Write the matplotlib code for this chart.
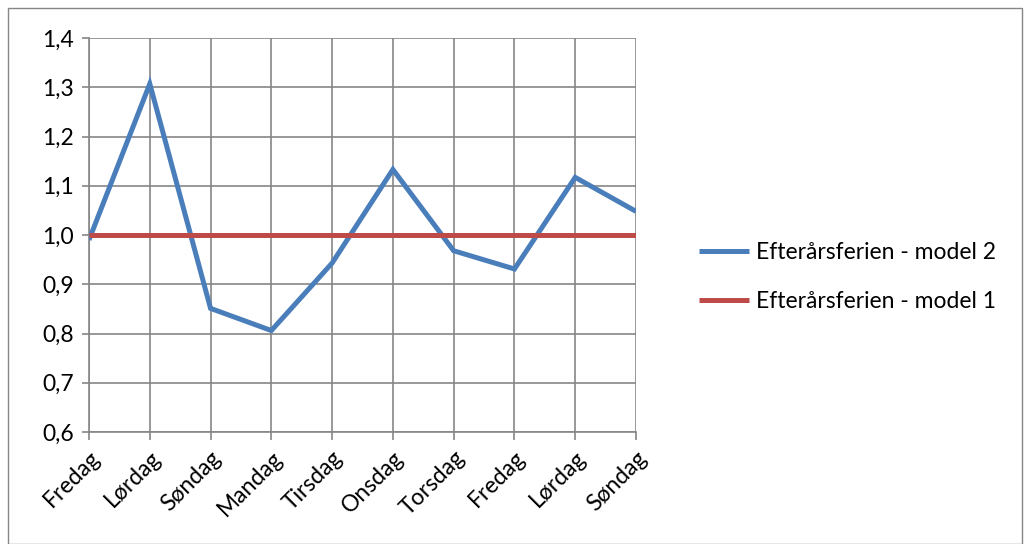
import matplotlib
matplotlib.use("Agg")
import matplotlib.pyplot as plt
from matplotlib.patches import Rectangle
from matplotlib.ticker import FuncFormatter

categories = ["Fredag", "Lørdag", "Søndag", "Mandag", "Tirsdag", "Onsdag",
              "Torsdag", "Fredag", "Lørdag", "Søndag"]
model2 = [0.99, 1.307, 0.851, 0.806, 0.943, 1.133, 0.968, 0.931, 1.117, 1.048]
model1 = [1.0] * 10
series_names = ["Efterårsferien - model 2", "Efterårsferien - model 1"]
yticks = [0.6, 0.7, 0.8, 0.9, 1.0, 1.1, 1.2, 1.3, 1.4]

plt.rcParams['font.family'] = ['Lato', 'DejaVu Sans']

fig = plt.figure(figsize=(10.3, 5.44), dpi=100)
ax = fig.add_axes([89/1030, 1-432/544, (636-89)/1030, (432-38)/544])

x = list(range(len(categories)))
l2, = ax.plot(x, model2, color="#4A7EBB", lw=3.6, solid_joinstyle='miter', solid_capstyle='butt', zorder=3)
l1, = ax.plot(x, model1, color="#BE4B48", lw=3.6, solid_capstyle='butt', zorder=3)

ax.set_xlim(0, len(categories)-1)
ax.set_ylim(0.6, 1.4)
ax.set_yticks(yticks)
ax.yaxis.set_major_formatter(FuncFormatter(lambda v, p: f"{v:.1f}".replace(".", ",")))
ax.set_xticks(x)
ax.set_xticklabels(categories, rotation=45, ha='right', rotation_mode='anchor', fontsize=16.5)
ax.tick_params(axis='y', labelsize=16.5, length=5, color="#868686", width=1.2, pad=6)
ax.tick_params(axis='x', length=6, color="#868686", width=1.2, pad=5)
ax.grid(True, color="#868686", lw=1.2)
ax.set_axisbelow(True)
for s in ax.spines.values():
    s.set_visible(False)
ax.spines['left'].set_visible(True)
ax.spines['left'].set_color("#868686")
ax.spines['left'].set_linewidth(1.2)
ax.spines['bottom'].set_visible(True)
ax.spines['bottom'].set_color("#868686")
ax.spines['bottom'].set_linewidth(1.2)

fig.legend([l2, l1], series_names, loc='center left',
           bbox_to_anchor=(678/1030, 1-277/544), frameon=False, fontsize=16.5,
           handlelength=2.2, labelspacing=1.25, handletextpad=0.3)

fig.patches.append(Rectangle((8/1030, 0), 1014/1030, 1-8/544, transform=fig.transFigure,
                             fill=False, edgecolor="#868686", lw=1))

fig.savefig("out.png", dpi=100)
